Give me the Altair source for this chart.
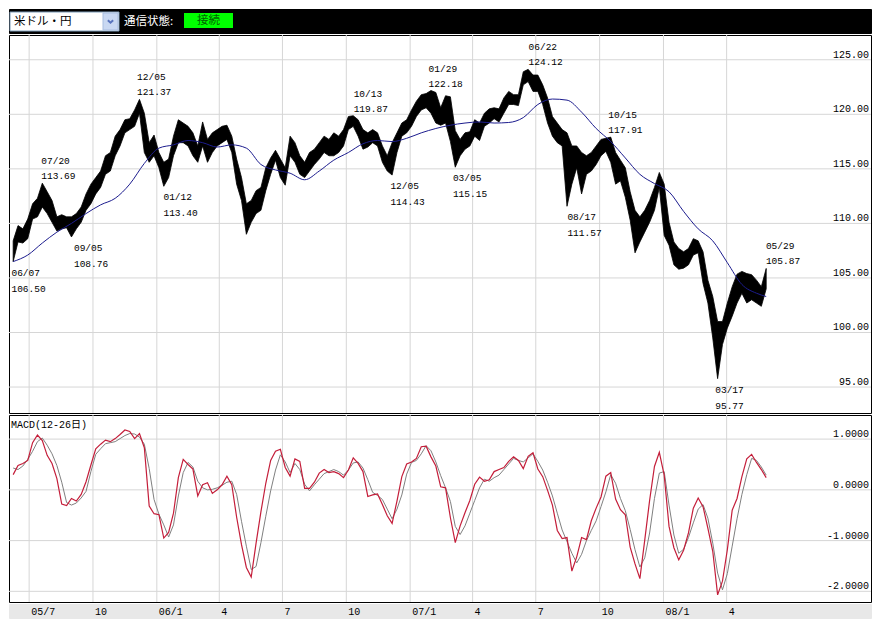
import altair as alt
import pandas as pd

# ---------------- data ----------------
pair_label = "米ドル・円"
status_label = "通信状態:"
conn_label = "接続"
macd_title = "MACD(12-26日)"

first_week = "2005-06-08"   # weekly ranges (Wednesday of each week)

price_low = [
    106.50, 108.3, 108.2, 108.6, 110.4, 110.6, 111.5, 110.9, 110.1, 109.3,
    109.5, 109.6, 108.76, 109.5, 110.1, 111.2, 111.8, 112.7, 113.3, 114.5,
    114.8, 116.2, 117.1, 118.3, 118.6, 118.9, 120.1, 116.5, 115.6, 116.2,
    115.1, 113.40, 114.2, 116.2, 117.4, 117.4, 117.1, 116.2, 115.6, 117.1,
    115.6, 116.5, 117.1, 117.4, 117.7, 116.5, 113.6, 112.1, 109.0, 110.1,
    110.9, 111.2, 113.0, 114.5, 115.8, 114.2, 113.5, 116.2, 115.6, 114.5,
    114.2, 114.8, 115.4, 115.9, 116.5, 116.2, 116.2, 116.5, 117.1, 118.6,
    118.9, 118.0, 116.8, 117.0, 117.4, 117.1, 115.6, 114.8, 114.43, 116.5,
    118.0, 118.3, 118.9, 119.8, 120.4, 120.6, 120.1, 119.2, 119.0, 119.2,
    117.5, 115.15, 116.2, 116.8, 117.1, 118.0, 117.6, 118.9, 119.2, 119.6,
    119.3, 120.1, 120.9, 120.9, 120.8, 122.7, 123.0, 122.1, 122.1, 120.9,
    119.2, 118.0, 117.4, 117.1, 111.57, 113.6, 115.1, 112.7, 114.5, 114.8,
    115.4, 116.2, 116.6, 115.6, 113.6, 113.9, 112.4, 110.3, 107.3, 108.3,
    109.2, 110.1, 111.2, 113.3, 108.9, 108.0, 106.2, 105.8, 105.9, 106.2,
    107.1, 107.3, 104.5, 102.7, 99.5, 95.77, 98.9, 100.4, 101.5, 102.7,
    103.6, 102.7, 103.0, 102.7, 102.4, 104.0,
]
price_high = [
    108.4, 109.8, 109.5, 110.4, 111.8, 112.3, 113.69, 112.9, 112.1, 110.6,
    110.8, 110.6, 110.6, 110.9, 111.5, 112.7, 113.6, 114.2, 114.8, 116.2,
    116.5, 118.0, 118.6, 119.5, 119.6, 120.4, 121.37, 120.1, 117.4, 118.1,
    116.5, 115.6, 115.9, 118.0, 119.5, 119.2, 118.9, 118.3, 117.1, 119.3,
    117.7, 118.3, 118.6, 118.9, 119.0, 118.0, 115.9, 114.2, 111.8, 112.1,
    113.0, 113.3, 115.1, 116.0, 116.7, 115.9, 115.1, 118.0, 117.4, 116.2,
    115.6, 116.5, 116.8, 117.4, 118.0, 117.7, 118.3, 118.0, 118.6, 119.8,
    119.87, 119.5, 118.6, 118.3, 118.6, 118.3, 117.1, 116.2, 117.4, 118.3,
    119.2, 119.5, 120.4, 121.2, 121.8, 121.9, 122.18, 122.0, 120.6, 121.7,
    121.6, 118.5, 117.7, 118.3, 118.4, 119.5, 119.2, 120.1, 120.5, 120.6,
    120.5, 121.5, 122.1, 121.8, 121.8, 123.9, 124.12, 123.6, 123.6, 122.7,
    121.5, 119.8, 119.2, 118.6, 118.3, 117.1, 117.1, 116.5, 116.2, 116.5,
    117.1, 117.7, 117.8, 117.91, 116.5, 115.8, 115.1, 112.9, 111.2, 110.6,
    111.2, 112.1, 113.3, 114.67, 113.6, 110.1, 108.3, 107.7, 107.4, 107.7,
    108.6, 108.4, 107.4, 104.8, 103.3, 101.0, 101.0, 102.7, 104.2, 105.35,
    105.6, 105.4, 105.3, 104.8, 104.2, 105.87,
]

ma_week_idx = list(range(0, 154, 3)) + [155]
ma_values = [
    106.5, 107.1, 108.2, 109.2, 110.0, 110.9, 111.7, 112.3, 113.6, 115.5,
    116.9, 117.2, 117.6, 117.4, 117.0, 117.2, 116.9, 115.4, 114.9, 114.6,
    114.0, 114.8, 115.8, 116.5, 117.3, 117.6, 117.5, 117.8, 118.3, 118.7,
    119.0, 119.2, 119.3, 119.2, 119.25, 119.7, 120.9, 121.4, 121.3, 120.2,
    118.7, 117.5, 116.0, 114.5, 113.65, 112.9, 111.1, 109.5, 108.4, 106.4,
    104.4, 103.6, 103.3,
]

macd_values = [
    0.30, 0.48, 0.52, 0.58, 0.93, 1.08, 0.97, 0.68, 0.52, 0.22,
    -0.28, -0.31, -0.17, -0.22, -0.09, 0.16, 0.49, 0.81, 0.90, 0.98,
    0.95, 1.01, 1.09, 1.18, 1.15, 1.01, 1.11, 0.83, -0.32, -0.47,
    -0.49, -0.95, -0.84, -0.46, 0.24, 0.60, 0.50, 0.41, -0.12, 0.10,
    0.14, -0.07, 0.00, 0.10, 0.27, 0.10, -0.54, -1.08, -1.53, -1.72,
    -1.05, -0.43, 0.13, 0.58, 0.76, 0.80, 0.44, 0.27, 0.61, 0.56,
    0.03, 0.03, 0.15, 0.33, 0.40, 0.34, 0.36, 0.32, 0.24, 0.39,
    0.63, 0.52, 0.36, -0.13, -0.10, -0.08, -0.29, -0.51, -0.66, -0.22,
    0.26, 0.51, 0.55, 0.62, 0.85, 0.86, 0.65, 0.47, 0.06, 0.04,
    -0.55, -1.04, -0.71, -0.45, -0.21, 0.11, 0.25, 0.17, 0.20, 0.36,
    0.40, 0.44, 0.56, 0.65, 0.58, 0.42, 0.66, 0.73, 0.41, 0.26,
    -0.01, -0.30, -0.80, -0.96, -0.94, -1.60, -1.32, -0.94, -0.98, -0.61,
    -0.36, -0.14, 0.27, 0.34, -0.18, -0.39, -0.49, -1.13, -1.46, -1.75,
    -0.99, -0.21, 0.46, 0.74, 0.29, -0.72, -1.14, -1.38, -1.19, -0.85,
    -0.36, -0.16, -0.33, -0.76, -1.21, -2.07, -1.80, -1.18, -0.40, -0.17,
    0.26, 0.61, 0.70, 0.54, 0.40, 0.24,
]
signal_values = [
    0.43, 0.40, 0.47, 0.60, 0.76, 0.95, 1.02, 0.88, 0.71, 0.48,
    0.15, -0.25, -0.30, -0.26, -0.16, -0.03, 0.36, 0.70, 0.81, 0.91,
    0.93, 0.95, 1.01, 1.07, 1.11, 1.10, 1.04, 0.90, 0.42, -0.19,
    -0.48, -0.69, -0.93, -0.69, -0.12, 0.34, 0.54, 0.45, 0.17, 0.04,
    0.00, 0.01, 0.04, 0.09, 0.15, 0.17, -0.09, -0.62, -1.11, -1.57,
    -1.51, -1.04, -0.52, -0.02, 0.39, 0.69, 0.55, 0.34, 0.52, 0.40,
    0.11, -0.02, 0.10, 0.21, 0.32, 0.36, 0.40, 0.36, 0.29, 0.39,
    0.53, 0.55, 0.43, 0.20, -0.05, -0.11, -0.19, -0.38, -0.57, -0.38,
    -0.10, 0.31, 0.54, 0.58, 0.71, 0.87, 0.77, 0.55, 0.28, 0.04,
    -0.23, -0.72, -0.88, -0.71, -0.46, -0.21, 0.04, 0.21, 0.17, 0.24,
    0.29, 0.40, 0.51, 0.62, 0.58, 0.55, 0.63, 0.71, 0.56, 0.39,
    0.15, -0.12, -0.46, -0.79, -1.02, -1.25, -1.44, -1.27, -1.00, -0.80,
    -0.61, -0.33, -0.04, 0.30, 0.13, -0.17, -0.41, -0.78, -1.18, -1.52,
    -1.34, -0.85, -0.17, 0.33, 0.36, -0.30, -0.89, -1.25, -1.17, -0.94,
    -0.65, -0.38, -0.29, -0.56, -1.05, -1.64, -1.97, -1.65, -1.11, -0.57,
    -0.09, 0.30, 0.62, 0.58, 0.45, 0.29,
]

ann_dates = ["2005-06-07", "2005-07-20", "2005-09-05", "2005-12-05", "2006-01-12",
             "2006-10-13", "2006-12-05", "2007-01-29", "2007-03-05", "2007-06-22",
             "2007-08-17", "2007-10-15", "2008-03-17", "2008-05-29"]
ann_labels = ["06/07", "07/20", "09/05", "12/05", "01/12", "10/13", "12/05",
              "01/29", "03/05", "06/22", "08/17", "10/15", "03/17", "05/29"]
ann_values = [106.50, 113.69, 108.76, 121.37, 113.40, 119.87, 114.43,
              122.18, 115.15, 124.12, 111.57, 117.91, 95.77, 105.87]
ann_kind = ["low", "high", "low", "high", "low", "high", "low",
            "high", "low", "high", "low", "high", "low", "high"]

tick_dates = ["2005-07-01", "2005-10-01", "2006-01-01", "2006-04-01", "2006-07-01",
              "2006-10-01", "2007-01-01", "2007-04-01", "2007-07-01", "2007-10-01",
              "2008-01-01", "2008-04-01"]
tick_labels = ["05/7", "10", "06/1", "4", "7", "10", "07/1", "4", "7", "10", "08/1", "4"]
price_ticks = [95, 100, 105, 110, 115, 120, 125]
price_tick_labels = ["95.00", "100.00", "105.00", "110.00", "115.00", "120.00", "125.00"]
macd_ticks = [-2, -1, 0, 1]
macd_tick_labels = ["-2.0000", "-1.0000", "0.0000", "1.0000"]

# ---------------- tables ----------------
weeks = pd.date_range(first_week, periods=len(price_low), freq="7D")
price_df = pd.DataFrame({"date": weeks, "low": price_low, "high": price_high})
ma_df = pd.DataFrame({"date": weeks[ma_week_idx], "ma": ma_values})
macd_df = pd.DataFrame({"date": weeks, "macd": macd_values, "signal": signal_values})
ann_df = pd.DataFrame({"date": pd.to_datetime(ann_dates), "value": ann_values,
                       "kind": ann_kind, "label": ann_labels})
tick_df = pd.DataFrame({"date": pd.to_datetime(tick_dates), "label": tick_labels})
pt_df = pd.DataFrame({"v": price_ticks, "lab": price_tick_labels})
mt_df = pd.DataFrame({"v": macd_ticks, "lab": macd_tick_labels})
hdr_df = pd.DataFrame({"pair": [pair_label], "status": [status_label],
                       "conn": [conn_label], "macd": [macd_title]})

# ---------------- styling ----------------
W = 862
H_HEAD, H_MAIN, H_MACD, H_STRIP = 24, 378, 187, 14
GRID = "#d6d6d6"
MONO = "Liberation Mono, DejaVu Sans Mono, monospace"
CJK = "Noto Sans CJK JP"
MONO_CJK = "Liberation Mono, Noto Sans CJK JP"

x_scale = alt.Scale(domain=[alt.DateTime(year=2005, month=6, date=2),
                            alt.DateTime(year=2008, month=10, date=26)])
X = alt.X("date:T", scale=x_scale, axis=None)
y_price = alt.Scale(domain=[92.62, 127.27], nice=False, zero=False)
y_macd = alt.Scale(domain=[-2.21, 1.475], nice=False, zero=False)

# ---------------- header ----------------
hb = alt.Chart(hdr_df)
header = alt.layer(
    hb.mark_rect(color="white", stroke="#7f9db9", strokeWidth=1).encode(
        x=alt.value(1), x2=alt.value(110), y=alt.value(3), y2=alt.value(22)),
    hb.mark_rect(color="#c9d8f2", stroke="#a8bde0", strokeWidth=1).encode(
        x=alt.value(94), x2=alt.value(109), y=alt.value(4), y2=alt.value(21)),
    hb.mark_point(shape="M-1,-0.45L0,0.45L1,-0.45", filled=False, color="#2b4aa8",
                  size=28, strokeWidth=2).encode(x=alt.value(101.5), y=alt.value(12.5)),
    hb.mark_text(align="left", baseline="middle", font=CJK, fontSize=11.5,
                 color="black").encode(x=alt.value(5), y=alt.value(13), text="pair:N"),
    hb.mark_text(align="left", baseline="middle", font=CJK, fontSize=11.5,
                 color="white").encode(x=alt.value(115), y=alt.value(12.5), text="status:N"),
    hb.mark_rect(color="#00ff00").encode(
        x=alt.value(175), x2=alt.value(224), y=alt.value(4), y2=alt.value(19)),
    hb.mark_text(align="center", baseline="middle", font=CJK, fontSize=11.5,
                 color="#006400").encode(x=alt.value(199.5), y=alt.value(11.5), text="conn:N"),
).properties(width=W, height=H_HEAD, view={"fill": "black", "stroke": "black"})


def grid_layers(df, yscale):
    rules = alt.Chart(df).mark_rule(color=GRID, strokeWidth=1).encode(
        y=alt.Y("v:Q", scale=yscale, axis=None))
    labels = alt.Chart(df).mark_text(align="right", baseline="alphabetic", dy=-2,
                                     font=MONO, fontSize=10, color="black").encode(
        x=alt.value(W - 2), y=alt.Y("v:Q", scale=yscale, axis=None), text="lab:N")
    return rules, labels


# ---------------- main price panel ----------------
vgrid = alt.Chart(tick_df).mark_rule(color=GRID, strokeWidth=1).encode(x=X)
p_rules, p_labels = grid_layers(pt_df, y_price)
band = alt.Chart(price_df).mark_area(color="black", opacity=1, interpolate="linear",
                                     stroke="black", strokeWidth=0.8).encode(
    x=X, y=alt.Y("low:Q", scale=y_price, axis=None), y2="high:Q")
ma_line = alt.Chart(ma_df).mark_line(color="#1c1c8e", strokeWidth=1,
                                     interpolate="monotone").encode(
    x=X, y=alt.Y("ma:Q", scale=y_price, axis=None))

ab = alt.Chart(ann_df).encode(x=X, y=alt.Y("value:Q", scale=y_price, axis=None))
txt = dict(align="left", baseline="middle", dx=-1, font=MONO, fontSize=9.5, color="black")
hi_f = alt.datum.kind == "high"
lo_f = alt.datum.kind == "low"
ann_layers = [
    ab.mark_text(dy=-22, **txt).encode(text="label:N").transform_filter(hi_f),
    ab.mark_text(dy=-7, **txt).encode(text=alt.Text("value:Q", format=".2f")).transform_filter(hi_f),
    ab.mark_text(dy=11, **txt).encode(text="label:N").transform_filter(lo_f),
    ab.mark_text(dy=27, **txt).encode(text=alt.Text("value:Q", format=".2f")).transform_filter(lo_f),
]
main = alt.layer(vgrid, p_rules, p_labels, band, ma_line, *ann_layers).properties(
    width=W, height=H_MAIN, view={"stroke": "black", "strokeWidth": 1})

# ---------------- MACD panel ----------------
m_rules, m_labels = grid_layers(mt_df, y_macd)
sig_line = alt.Chart(macd_df).mark_line(color="#808080", strokeWidth=1).encode(
    x=X, y=alt.Y("signal:Q", scale=y_macd, axis=None))
macd_line = alt.Chart(macd_df).mark_line(color="#c41e3a", strokeWidth=1.2).encode(
    x=X, y=alt.Y("macd:Q", scale=y_macd, axis=None))
macd_ttl = alt.Chart(hdr_df).mark_text(align="left", baseline="middle", font=MONO_CJK,
                                       fontSize=10, color="black").encode(
    x=alt.value(2), y=alt.value(10), text="macd:N")
macd = alt.layer(vgrid, m_rules, m_labels, sig_line, macd_line, macd_ttl).properties(
    width=W, height=H_MACD, view={"stroke": "black", "strokeWidth": 1})

# ---------------- date strip ----------------
strip = alt.Chart(tick_df).mark_text(align="left", baseline="middle", dx=2, font=MONO,
                                     fontSize=10, color="black").encode(
    x=X, y=alt.value(7.5), text="label:N").properties(
    width=W, height=H_STRIP, view={"fill": "#e8e8e8", "stroke": "#e8e8e8"})

chart = alt.vconcat(header, main, macd, strip, spacing=0).properties(
    padding=0, background="white")

chart.save("out.html", embed_options={"renderer": "svg", "actions": False})
